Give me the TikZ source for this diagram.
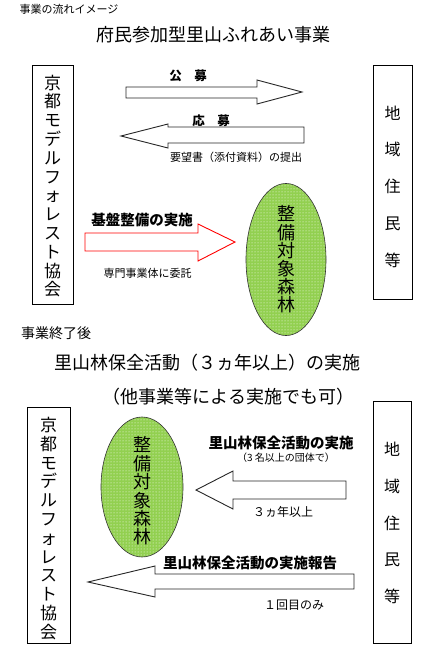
\documentclass[tikz,border=0pt]{standalone}
\usepackage{fontspec}
\setmainfont{Noto Sans CJK JP}
\usetikzlibrary{patterns,shapes.geometric}
\definecolor{lgreen}{RGB}{146,208,80}
\begin{document}
\begin{tikzpicture}[x=1pt,y=-1pt,
  box/.style={draw, line width=0.8pt, inner sep=0},
  blk/.style={draw=black!85, line width=0.9pt, fill=white, line join=miter},
  redarrow/.style={draw=red, line width=0.9pt, fill=white, line join=miter},
  forest/.style={ellipse, draw=black!80, line width=0.6pt, preaction={fill=lgreen}, pattern=dots, pattern color=white, inner sep=0, align=center, font=\fontsize{18}{18.2}\selectfont},
  lbl/.style={font=\fontsize{14.5}{16}\selectfont\bfseries, inner sep=0},
  small/.style={font=\fontsize{11}{13}\selectfont, inner sep=0},
  title/.style={font=\fontsize{18}{20}\selectfont, inner sep=0},
  vtext/.style={align=center, inner sep=0, font=\fontsize{17}{18.8}\selectfont},
  wtext/.style={align=center, inner sep=0, font=\fontsize{16}{36.75}\selectfont}
]
\useasboundingbox (0,0) rectangle (425,648);

% headings
\node[small, anchor=west, font=\fontsize{11}{13}\selectfont] (h1) at (19.5,9) {事業の流れイメージ};
\node[title] (t1) at (213,35) {府民参加型里山ふれあい事業};

% top boxes
\node[box, minimum width=41pt, minimum height=239pt] (kyoto1) at (52.5,184.5) {};
\node[vtext] (kyoto1t) at (52.5,186) {京\\都\\モ\\デ\\ル\\フ\\ォ\\レ\\ス\\ト\\協\\会};
\node[box, minimum width=39pt, minimum height=234pt] (jumin1) at (392.5,182) {};
\node[wtext] (jumin1t) at (392.5,186.5) {地\\域\\住\\民\\等};

% 公募 arrow
\draw[blk] (126,87) -- (257,87) -- (257,80) -- (302,92) -- (257,104) -- (257,98) -- (126,98) -- cycle;
\node[lbl, font=\fontsize{12.5}{14}\selectfont\bfseries] (koubo) at (188,76) {公\hspace{1em}募};

% 応募 arrow
\draw[blk] (304,127) -- (168,127) -- (168,124) -- (121,136) -- (168,148) -- (168,143) -- (304,143) -- cycle;
\node[lbl, font=\fontsize{12.5}{14}\selectfont\bfseries] (oubo) at (211,121) {応\hspace{1em}募};
\node[small] (youbou) at (236,157) {要望書（添付資料）の提出};

% red arrow
\draw[redarrow] (85,233) -- (198,233) -- (198,224) -- (235,242) -- (198,261) -- (198,251) -- (85,251) -- cycle;
\node[lbl] (kiban) at (142,220) {基盤整備の実施};
\node[small] (senmon) at (147.5,273) {専門事業体に委託};

% forest 1
\node[forest, minimum width=80pt, minimum height=145pt] (forest1) at (286,259.5) {整\\備\\対\\象\\森\\林};

% after
\node[anchor=west, inner sep=0, font=\fontsize{14}{16}\selectfont] (h2) at (21,333) {事業終了後};
\node[title] (t2) at (207,363) {里山林保全活動（３ヵ年以上）の実施};
\node[title] (t3) at (228.5,397) {（他事業等による実施でも可）};

% bottom boxes
\node[box, minimum width=43pt, minimum height=236pt] (kyoto2) at (48.5,525) {};
\node[vtext] (kyoto2t) at (48.5,528.5) {京\\都\\モ\\デ\\ル\\フ\\ォ\\レ\\ス\\ト\\協\\会};
\node[box, minimum width=38pt, minimum height=242pt] (jumin2) at (392,522) {};
\node[wtext] (jumin2t) at (392,523) {地\\域\\住\\民\\等};

% forest 2
\node[forest, minimum width=82pt, minimum height=140pt] (forest2) at (142,487) {};
\node[align=center, inner sep=0, font=\fontsize{18}{18.4}\selectfont] (forest2t) at (142,491) {整\\備\\対\\象\\森\\林};

% 実施 arrow
\draw[blk] (346,481) -- (233,481) -- (233,471) -- (196,490) -- (233,509) -- (233,499) -- (346,499) -- cycle;
\node[lbl] (jisshi) at (281,443) {里山林保全活動の実施};
\node[small, font=\fontsize{10}{12}\selectfont] (dantai) at (286,458) {（3 名以上の団体で）};
\node[small, font=\fontsize{12}{14}\selectfont] (sannen) at (283,512) {３ヵ年以上};

% 報告 arrow
\draw[blk] (354,574) -- (155,574) -- (155,566) -- (88,582) -- (155,597) -- (155,589) -- (354,589) -- cycle;
\node[lbl] (houkoku) at (250,563) {里山林保全活動の実施報告};
\node[small, font=\fontsize{12}{14}\selectfont] (ikkai) at (294,605) {１回目のみ};
\end{tikzpicture}
\end{document}
